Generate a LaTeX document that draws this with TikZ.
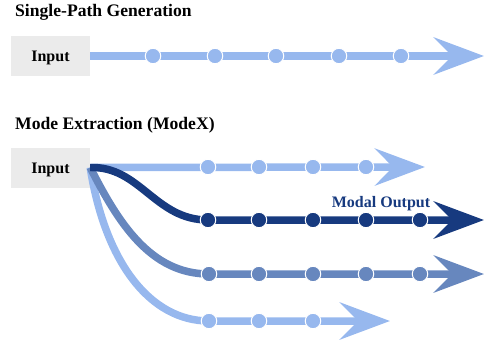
\documentclass[tikz,border=0pt]{standalone}
\usepackage{fontspec}
\setmainfont{Liberation Serif}
\usepackage{xcolor}
\usetikzlibrary{arrows.meta}

\definecolor{pathlight}{HTML}{97B8EE}
\definecolor{pathmid}{HTML}{6787BE}
\definecolor{pathdark}{HTML}{173A7F}
\definecolor{boxgray}{HTML}{EBEBEB}

\tikzset{
  inbox/.style={fill=boxgray, minimum width=79pt, minimum height=40pt, inner sep=0pt,
    text height=11.5pt, text depth=0pt, font=\fontsize{16}{19}\selectfont\bfseries},
  heading/.style={anchor=base west, inner sep=0pt, font=\fontsize{17.6}{21}\selectfont\bfseries},
  flow/.style={draw=#1, line width=7.5pt, -{Stealth[length=50pt,width=37pt,inset=18pt]}},
  bead/.style={circle, fill=#1, draw=white, line width=1pt, inner sep=0pt, minimum size=15.5pt},
}

\begin{document}
\begin{tikzpicture}[x=1pt,y=-1pt]
                        \useasboundingbox (0,0) rectangle (484,345);
                        
                        % Headings
                        \node [heading] (hsingle) at (15,17) {Single-Path Generation};%
                        \node [heading] (hmodex) at (15,129) {Mode Extraction (ModeX)};%
                        
                        % Input boxes
                        \node [inbox] (insingle) at (50.5,56) {Input};%
                        \node [inbox] (inmodex) at (50.5,167.5) {Input};%
                        
                        % End points of the paths
                        \coordinate (endsingle) at (484,56);%
                        \coordinate (enda) at (425,167);%
                        \coordinate (endb) at (484,220);%
                        \coordinate (endc) at (484,274);%
                        \coordinate (endd) at (390,321);%
                        
                        % Drawing single path
                        \draw [flow=pathlight] (insingle.east) -- (endsingle);%
                        \node [bead=pathlight] (s1) at (153,56) {};%
                        \node [bead=pathlight] (s2) at (215,56) {};%
                        \node [bead=pathlight] (s3) at (276,56) {};%
                        \node [bead=pathlight] (s4) at (339,56) {};%
                        \node [bead=pathlight] (s5) at (401,56) {};%
                        
                        % Drawing path d (lowest)
                        \draw [flow=pathlight] (inmodex.east) .. controls (105,262) and (150,321) .. (209,321) -- (endd);%
                        \node [bead=pathlight] (d1) at (209,321) {};%
                        \node [bead=pathlight] (d2) at (259,321) {};%
                        \node [bead=pathlight] (d3) at (313,321) {};%
                        
                        % Drawing path c
                        \draw [flow=pathmid] (inmodex.east) .. controls (118,222) and (150,274) .. (209,274) -- (endc);%
                        \node [bead=pathmid] (c1) at (209,274) {};%
                        \node [bead=pathmid] (c2) at (259,274) {};%
                        \node [bead=pathmid] (c3) at (313,274) {};%
                        \node [bead=pathmid] (c4) at (366,274) {};%
                        \node [bead=pathmid] (c5) at (420,274) {};%
                        
                        % Drawing path a (straight)
                        \draw [flow=pathlight] (inmodex.east) -- (enda);%
                        \node [bead=pathlight] (a1) at (208,167) {};%
                        \node [bead=pathlight] (a2) at (259,167) {};%
                        \node [bead=pathlight] (a3) at (313,167) {};%
                        \node [bead=pathlight] (a4) at (366,167) {};%
                        
                        % Drawing path b (modal)
                        \draw [flow=pathdark] (inmodex.east) .. controls (140,166) and (155,220) .. (208,220) -- (endb);%
                        \node [bead=pathdark] (b1) at (208,220) {};%
                        \node [bead=pathdark] (b2) at (259,220) {};%
                        \node [bead=pathdark] (b3) at (313,220) {};%
                        \node [bead=pathdark] (b4) at (366,220) {};%
                        \node [bead=pathdark] (b5) at (420,220) {};%
                        \node [font=\fontsize{16}{19}\selectfont\bfseries, text=pathdark, inner sep=0pt, anchor=base] (lblmodal) at (381,207) {Modal Output};%
\end{tikzpicture}
\end{document}
